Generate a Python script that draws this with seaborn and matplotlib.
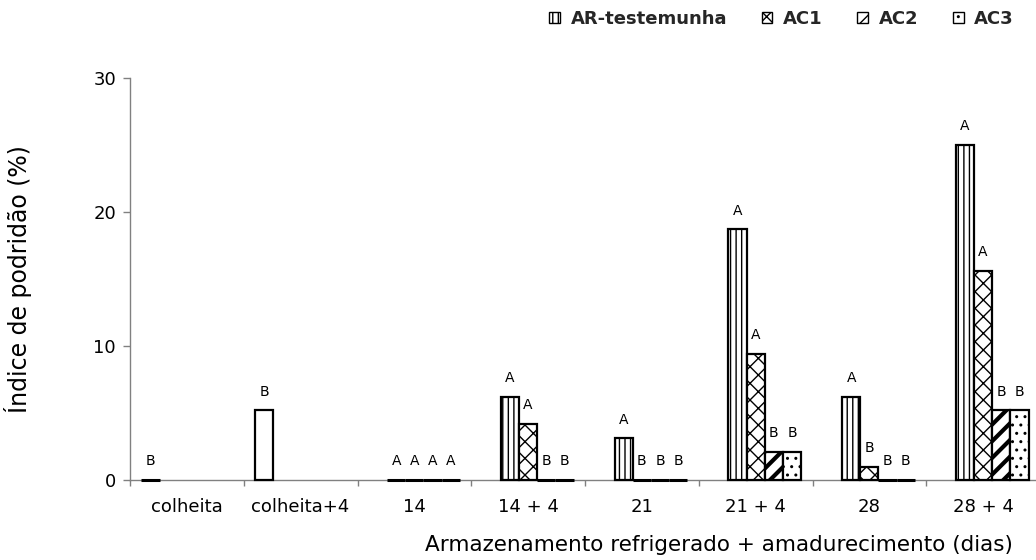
import matplotlib
matplotlib.use("Agg")
import matplotlib.pyplot as plt
import matplotlib.patches as mpatches
import pandas as pd
import seaborn as sns

# Períodos de armazenamento refrigerado + amadurecimento
categorias = ["colheita", "colheita+4", "14", "14 + 4", "21", "21 + 4", "28", "28 + 4"]
tratamentos = ["Inicial", "AR-testemunha", "AC1", "AC2", "AC3"]

# Índice de podridão (%) por tratamento (None = sem avaliação)
inicial = [0.0, 5.2, None, None, None, None, None, None]
ar_testemunha = [None, None, 0.0, 6.2, 3.1, 18.7, 6.2, 25.0]
ac1 = [None, None, 0.0, 4.2, 0.0, 9.4, 1.0, 15.6]
ac2 = [None, None, 0.0, 0.0, 0.0, 2.1, 0.0, 5.2]
ac3 = [None, None, 0.0, 0.0, 0.0, 2.1, 0.0, 5.2]

# Letras do teste de médias
letras_inicial = ["B", "B", None, None, None, None, None, None]
letras_ar = [None, None, "A", "A", "A", "A", "A", "A"]
letras_ac1 = [None, None, "A", "A", "B", "A", "B", "A"]
letras_ac2 = [None, None, "A", "B", "B", "B", "B", "B"]
letras_ac3 = [None, None, "A", "B", "B", "B", "B", "B"]

valores = [inicial, ar_testemunha, ac1, ac2, ac3]
letras = [letras_inicial, letras_ar, letras_ac1, letras_ac2, letras_ac3]
hachuras = ["", "|||", "xx", "//", ".."]

linhas = []
for trat, vals in zip(tratamentos, valores):
    for cat, v in zip(categorias, vals):
        if v is not None:
            linhas.append({"periodo": cat, "tratamento": trat, "indice": v})
df = pd.DataFrame(linhas)

sns.set_theme(style="white")
plt.rcParams["font.family"] = ["DejaVu Sans"]
plt.rcParams["hatch.linewidth"] = 1.0

fig = plt.figure(figsize=(10.36, 5.6), dpi=100)
W, H = 1036, 560
ax = fig.add_axes([130 / W, 80 / H, 910 / W, 402 / H])

largura = 0.8
sns.barplot(data=df, x="periodo", y="indice", hue="tratamento",
            order=categorias, hue_order=tratamentos,
            palette=["white"] * len(tratamentos), saturation=1,
            edgecolor="black", linewidth=1.6, width=largura,
            errorbar=None, legend=False, ax=ax)

passo = largura / len(tratamentos)
for cont in ax.containers:
    for p in cont.patches:
        xc = p.get_x() + p.get_width() / 2
        cat = int(round(xc))
        slot = int(round((xc - cat) / passo + (len(tratamentos) - 1) / 2))
        p.set_hatch(hachuras[slot])
        p.set_clip_on(False)
        p.set_zorder(3)
        if p.get_height() == 0:
            p.set_linewidth(2.2)
        if slot == 3 and hasattr(p, "set_hatch_linewidth"):
            p.set_hatch_linewidth(3.0)
        letra = letras[slot][cat]
        if letra:
            ax.annotate(letra, (xc, p.get_height()), xytext=(0, 13.5),
                        textcoords="offset points", ha="center", va="center",
                        fontsize=10, color="black")

ax.set_xlim(-0.5, len(categorias) - 0.5)
ax.set_ylim(0, 30)
ax.set_yticks([0, 10, 20, 30])
ax.set_xticks(range(len(categorias)))
ax.set_xticklabels(categorias)
ax.set_xticks([i - 0.5 for i in range(len(categorias) + 1)], minor=True)

cinza = "#808080"
for lado in ["top", "right"]:
    ax.spines[lado].set_visible(False)
for lado in ["left", "bottom"]:
    ax.spines[lado].set_color(cinza)
    ax.spines[lado].set_linewidth(1.0)

ax.tick_params(axis="x", which="major", length=0, pad=13, labelsize=13, colors="black")
ax.tick_params(axis="x", which="minor", length=4, width=1.0, color=cinza, direction="out", bottom=True)
ax.tick_params(axis="y", which="major", length=5, width=1.0, color=cinza, direction="out",
               left=True, pad=5, labelsize=13, labelcolor="black")

ax.set_ylabel("Índice de podridão (%)", fontsize=17, color="black")
ax.yaxis.set_label_coords(-0.108, 0.5)
ax.set_xlabel("Armazenamento refrigerado + amadurecimento (dias)", fontsize=15.5,
              color="black", ha="right", va="center")
ax.xaxis.set_label_coords(0.97, -0.162)

alcas = [mpatches.Patch(facecolor="white", edgecolor="black", hatch=h, linewidth=1.0, label=t)
         for t, h in zip(tratamentos[1:], hachuras[1:])]
fig.legend(handles=alcas, loc="center right", bbox_to_anchor=(1014 / W, 1 - 19 / H),
           ncol=4, frameon=False, borderpad=0, borderaxespad=0,
           handlelength=0.6, handleheight=0.6, handletextpad=0.6, columnspacing=1.9,
           prop={"weight": "bold", "size": 13})

fig.savefig("out.png", dpi=100, facecolor="white")
